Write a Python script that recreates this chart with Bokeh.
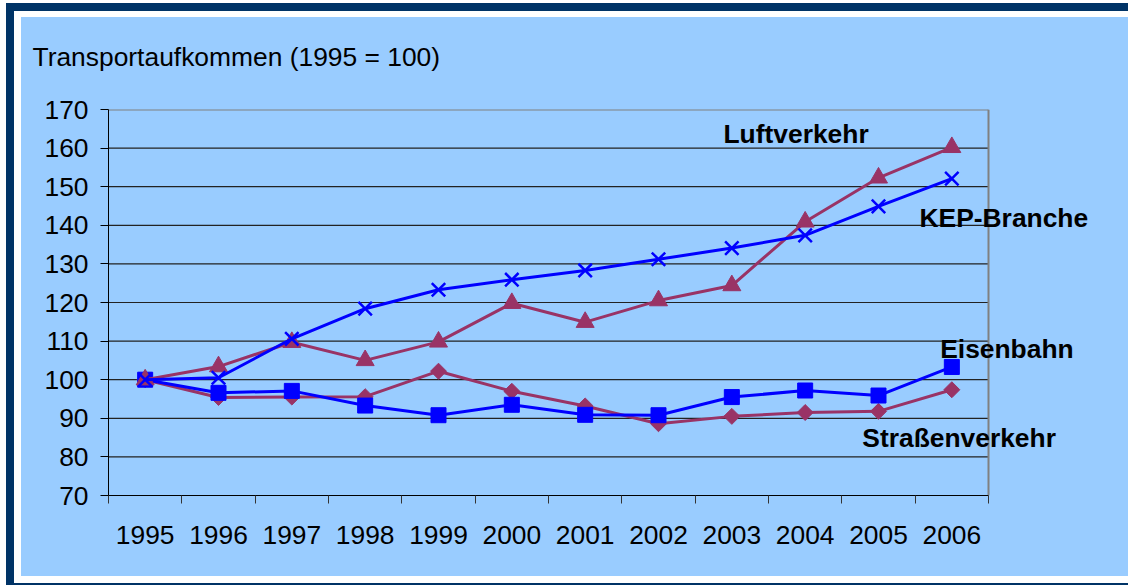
from math import pi
from bokeh.plotting import figure
from bokeh.models import FixedTicker, Label, Range1d
from bokeh.embed import file_html
from bokeh.resources import INLINE

# ---- data ----
years = ["1995", "1996", "1997", "1998", "1999", "2000",
         "2001", "2002", "2003", "2004", "2005", "2006"]
luftverkehr = [100, 103.4, 109.7, 105.0, 109.8, 119.8, 114.9, 120.5, 124.4, 140.9, 152.3, 160.2]
kep_branche = [100, 100.5, 110.6, 118.4, 123.3, 125.9, 128.3, 131.2, 134.1, 137.4, 144.9, 152.1]
eisenbahn = [100, 96.6, 97.1, 93.3, 90.8, 93.5, 90.9, 90.8, 95.5, 97.2, 95.9, 103.3]
strassenverkehr = [100, 95.4, 95.5, 95.6, 102.2, 97.0, 93.2, 88.6, 90.5, 91.5, 91.8, 97.4]
y_ticks = [70, 80, 90, 100, 110, 120, 130, 140, 150, 160, 170]
title_text = "Transportaufkommen (1995 = 100)"

# ---- style ----
NAVY = "#003366"
LIGHT = "#99CCFF"
MAROON = "#993366"
BLUE = "#0000FF"
FONT = "Liberation Sans"
FS = "26.4px"

W, H = 1128, 585
FL, FT = 108, 109          # frame left / top
PW, FH = 880, 386          # plot area width (12 categories) / frame height
FB = H - FT - FH
n = len(years)
Y0, Y1 = y_ticks[0], y_ticks[-1]
UX = PW / n                # px per category
UY = FH / (Y1 - Y0)        # px per unit
X_END = (W - FL) / UX      # frame extends to the right edge (for labels)

bg = ("linear-gradient({L},{L}) 21px 17px / {w1}px 559px no-repeat, "
      "linear-gradient(#ffffff,#ffffff) 14px 11px / {w2}px 572px no-repeat, "
      "linear-gradient({N},{N}) 6px 3px / {w3}px 582px no-repeat, #ffffff").format(
          L=LIGHT, N=NAVY, w1=W - 21, w2=W - 14, w3=W - 6)

p = figure(width=W, height=H, output_backend="svg", toolbar_location=None,
           x_range=Range1d(0, X_END), y_range=Range1d(Y0, Y1),
           min_border_left=FL, min_border_right=0,
           min_border_top=FT, min_border_bottom=FB,
           background_fill_color=LIGHT, border_fill_color=None,
           styles={"background": bg})

def dx(px):
    return (px - FL) / UX

def dy(py):
    return Y0 + (FT + FH - py) / UY

p.outline_line_color = None
xs = [i + 0.5 for i in range(n)]

# title
p.title.text = title_text
p.title.align = "left"
p.title.offset = -76
p.title.standoff = 75
p.title.text_font = FONT
p.title.text_font_size = FS
p.title.text_font_style = "normal"
p.title.text_color = "black"

# axes
p.xaxis.bounds = (0, n)
p.xaxis.ticker = FixedTicker(ticks=xs, minor_ticks=list(range(n + 1)))
p.xaxis.major_label_overrides = {x: y for x, y in zip(xs, years)}
p.xaxis.major_tick_line_color = None
p.xaxis.major_tick_out = 8
p.xaxis.major_tick_in = 0
p.xaxis.minor_tick_line_color = "#333333"
p.xaxis.minor_tick_out = 8
p.xaxis.minor_tick_in = 0
p.xaxis.major_label_standoff = 22

p.yaxis.ticker = FixedTicker(ticks=y_ticks)
p.yaxis.major_tick_out = 8
p.yaxis.major_tick_in = 0
p.yaxis.major_tick_line_color = "black"
p.yaxis.minor_tick_line_color = None
p.yaxis.major_label_standoff = 12

for ax in (p.xaxis[0], p.yaxis[0]):
    ax.axis_line_color = "black"
    ax.axis_line_width = 1
    ax.major_label_text_font = FONT
    ax.major_label_text_font_size = FS
    ax.major_label_text_color = "black"

p.xgrid.visible = False
p.ygrid.visible = False

# gridlines and plot-area border limited to the 12 categories
grid_y = y_ticks[1:-1]
p.segment(x0=[0] * len(grid_y), x1=[n] * len(grid_y), y0=grid_y, y1=grid_y,
          line_color="#222222", line_width=1.2)
p.segment(x0=[0, n], x1=[n, n], y0=[Y1, Y0], y1=[Y1, Y1],
          line_color="#808080", line_width=2)

# series
p.line(xs, strassenverkehr, line_color=MAROON, line_width=3)
p.scatter(xs, strassenverkehr, marker="square", angle=pi / 4, size=11.3,
          fill_color=MAROON, line_color=MAROON)
p.line(xs, eisenbahn, line_color=BLUE, line_width=3)
p.scatter(xs, eisenbahn, marker="square", size=15, fill_color=BLUE, line_color=BLUE)
p.line(xs, luftverkehr, line_color=MAROON, line_width=3)
p.scatter(xs, luftverkehr, marker="triangle", size=18, fill_color=MAROON, line_color=MAROON)
p.line(xs, kep_branche, line_color=BLUE, line_width=3)
p.scatter(xs, kep_branche, marker="x", size=19, line_color=BLUE, line_width=2.5)

# series labels
def add_text(txt, px, py):
    p.add_layout(Label(x=dx(px), y=dy(py), text=txt, text_font=FONT,
                       text_font_size=FS, text_font_style="bold",
                       text_color="black", text_align="left",
                       text_baseline="alphabetic"))

add_text("Luftverkehr", 723, 133.5)
add_text("KEP-Branche", 919, 217.5)
add_text("Eisenbahn", 939.7, 348)
add_text("Straßenverkehr", 861.8, 437)

open("out.html", "w").write(file_html(p, INLINE))
